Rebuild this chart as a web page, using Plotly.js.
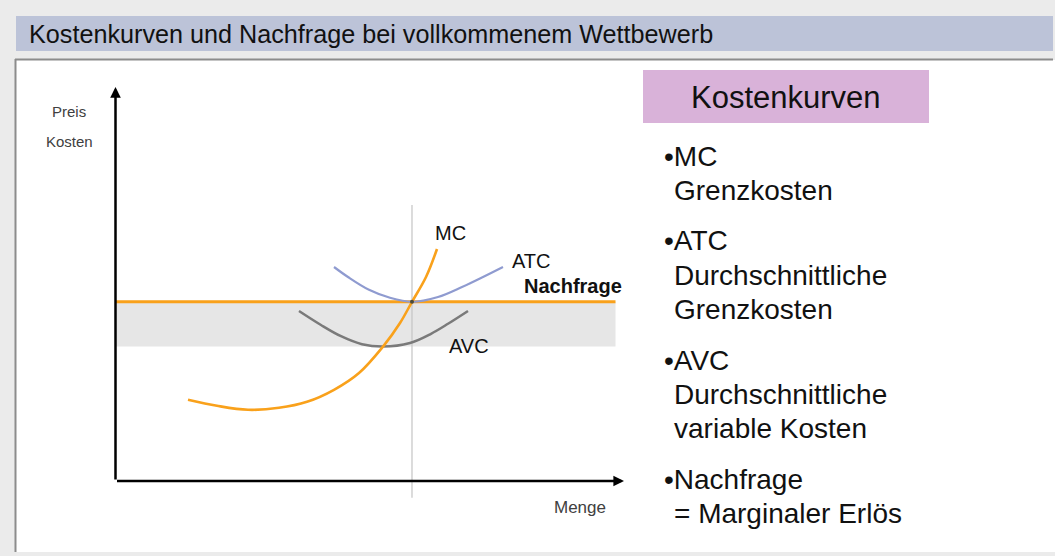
<!DOCTYPE html>
<html>
<head>
<meta charset="utf-8">
<script src="https://cdn.plot.ly/plotly-3.0.1.min.js"></script>
<style>
  html, body { margin: 0; padding: 0; background: #ffffff; }
  #chart { width: 1055px; height: 556px; }
</style>
</head>
<body>
<div id="chart"></div>
<script>
// ---------------- data ----------------
// Grenzkosten (MC)
const mcQ    = [1.45, 2.03, 2.65, 3.27, 3.83, 4.37, 4.87, 5.35, 5.69, 5.93, 6.21, 6.43];
const mcCost = [2.03, 1.88, 1.78, 1.83, 1.98, 2.28, 2.70, 3.36, 3.95, 4.48, 5.10, 5.80];
// Durchschnittliche totale Kosten (ATC)
const atcQ    = [4.37, 4.65, 5.07, 5.49, 5.93, 6.45, 6.93, 7.35, 7.75];
const atcCost = [5.35, 5.10, 4.78, 4.58, 4.48, 4.60, 4.85, 5.10, 5.35];
// Durchschnittliche variable Kosten (AVC)
const avcQ    = [3.67, 4.11, 4.51, 4.93, 5.35, 5.89, 6.31, 6.65, 7.05];
const avcCost = [4.25, 3.90, 3.62, 3.42, 3.36, 3.45, 3.68, 3.93, 4.25];
// Nachfrage = Preis
const demandQ     = [0, 10.0];
const demandPrice = [4.48, 4.48];
// Kennwerte
const qStar      = 5.93;   // optimale Menge
const avcMin     = 3.36;   // Minimum AVC (unterer Rand des grauen Bandes)
const bandQ      = [0, 10.0];
const qLineRange = [-0.42, 6.9];
const yAxisTop   = 9.85;
const xAxisEnd   = 10.17;

// ---------------- texts ----------------
const headerText   = 'Kostenkurven und Nachfrage bei vollkommenem Wettbewerb';
const yAxisLabels  = ['Preis', 'Kosten'];
const xAxisLabel   = 'Menge';
const curveLabels  = ['MC', 'ATC', 'Nachfrage', 'AVC'];
const boxTitle     = 'Kostenkurven';
const bulletLines  = [
  '•MC', 'Grenzkosten',
  '•ATC', 'Durchschnittliche', 'Grenzkosten',
  '•AVC', 'Durchschnittliche', 'variable Kosten',
  '•Nachfrage', '= Marginaler Erlös'
];

// ---------------- layout helpers ----------------
const W = 1055, H = 556;
const PX = x => x / W;
const PY = y => 1 - y / H;
const FONT = 'Liberation Sans, Arial, Helvetica, sans-serif';

const ORANGE = '#f9a11b';
const BLUE   = '#8f9bd0';
const GREY   = '#7a7a7a';

const traces = [
  { x: demandQ, y: demandPrice, mode: 'lines', line: { color: ORANGE, width: 3 }, hoverinfo: 'skip' },
  { x: atcQ, y: atcCost, mode: 'lines', line: { color: BLUE, width: 2.2, shape: 'spline', smoothing: 1 }, hoverinfo: 'skip' },
  { x: avcQ, y: avcCost, mode: 'lines', line: { color: GREY, width: 2.5, shape: 'spline', smoothing: 1 }, hoverinfo: 'skip' },
  { x: mcQ, y: mcCost, mode: 'lines', line: { color: ORANGE, width: 2.6, shape: 'spline', smoothing: 1 }, hoverinfo: 'skip' },
  { x: [qStar], y: [demandPrice[0]], mode: 'markers', marker: { color: '#4a4a3a', size: 4 }, hoverinfo: 'skip' }
];

const shapes = [
  // page background
  { type: 'rect', xref: 'paper', yref: 'paper', x0: 0, x1: 1, y0: 0, y1: 1, fillcolor: '#ebebeb', line: { width: 0 }, layer: 'below' },
  // header bar
  { type: 'rect', xref: 'paper', yref: 'paper', x0: PX(16), x1: PX(1053), y0: PY(51), y1: PY(16), fillcolor: '#bcc3d8', line: { width: 0 }, layer: 'below' },
  // white content area
  { type: 'rect', xref: 'paper', yref: 'paper', x0: PX(16), x1: PX(1055), y0: PY(552), y1: PY(60), fillcolor: '#ffffff', line: { width: 0 }, layer: 'below' },
  // frame lines
  { type: 'line', xref: 'paper', yref: 'paper', x0: PX(15), x1: PX(1053), y0: PY(59.5), y1: PY(59.5), line: { color: '#8c8c8c', width: 2 }, layer: 'below' },
  { type: 'line', xref: 'paper', yref: 'paper', x0: PX(15.5), x1: PX(15.5), y0: PY(59), y1: PY(552), line: { color: '#8c8c8c', width: 2 }, layer: 'below' },
  // pink title box
  { type: 'rect', xref: 'paper', yref: 'paper', x0: PX(643), x1: PX(929), y0: PY(123), y1: PY(70), fillcolor: '#d9b2d9', line: { width: 0 }, layer: 'below' },
  // grey band between price and AVC minimum
  { type: 'rect', xref: 'x', yref: 'y', x0: bandQ[0], x1: bandQ[1], y0: avcMin, y1: demandPrice[0], fillcolor: '#e6e6e6', line: { width: 0 }, layer: 'below' },
  // vertical line at optimal quantity
  { type: 'line', xref: 'x', yref: 'y', x0: qStar, x1: qStar, y0: qLineRange[0], y1: qLineRange[1], line: { color: '#c4c4c4', width: 1.2 }, layer: 'below' }
];

const ann = [];
function txt(text, x, y, size, opts) {
  ann.push(Object.assign({
    text: text, xref: 'paper', yref: 'paper', x: PX(x), y: PY(y),
    xanchor: 'left', yanchor: 'middle', showarrow: false,
    font: { family: FONT, size: size, color: '#111111' }
  }, opts || {}));
}

// axes with arrows
ann.push({ xref: 'x', yref: 'y', axref: 'x', ayref: 'y', x: 0, y: yAxisTop, ax: 0, ay: 0, text: '',
  showarrow: true, arrowhead: 2, arrowsize: 0.85, arrowwidth: 2.5, arrowcolor: '#000000', standoff: 0 });
ann.push({ xref: 'x', yref: 'y', axref: 'x', ayref: 'y', x: xAxisEnd, y: 0, ax: 0, ay: 0, text: '',
  showarrow: true, arrowhead: 2, arrowsize: 0.85, arrowwidth: 2.5, arrowcolor: '#000000', standoff: 0 });

// header
txt(headerText, 27, 34, 25.2);
// axis labels
txt(yAxisLabels[0], 69, 112, 15, { xanchor: 'center', font: { family: FONT, size: 15, color: '#404040' } });
txt(yAxisLabels[1], 69, 141, 15, { xanchor: 'center', font: { family: FONT, size: 15, color: '#404040' } });
txt(xAxisLabel, 580, 507, 17, { xanchor: 'center', font: { family: FONT, size: 17, color: '#404040' } });
// curve labels
txt(curveLabels[0], 450, 233, 20, { xanchor: 'center' });
txt(curveLabels[1], 531, 261, 20, { xanchor: 'center' });
txt(curveLabels[2], 573, 286, 20, { xanchor: 'center', font: { family: FONT, size: 20, color: '#111111', weight: 'bold' } });
txt(curveLabels[3], 469, 346, 20, { xanchor: 'center' });
// right panel
txt(boxTitle, 786, 97, 31, { xanchor: 'center' });
const lineY = [156, 190, 240, 275, 309, 360, 394, 428, 479, 513];
bulletLines.forEach((t, i) => {
  const isBullet = t.charAt(0) === '•';
  txt(t, isBullet ? 662 : 672, lineY[i], 28);
});

const layout = {
  width: W, height: H,
  margin: { l: 0, r: 0, t: 0, b: 0, pad: 0 },
  paper_bgcolor: '#ffffff',
  plot_bgcolor: 'rgba(0,0,0,0)',
  showlegend: false,
  xaxis: { domain: [PX(65.5), PX(665.5)], range: [-1, 11], visible: false, fixedrange: true },
  yaxis: { domain: [PY(521), PY(41)], range: [-1, 11], visible: false, fixedrange: true },
  shapes: shapes,
  annotations: ann,
  font: { family: FONT }
};

Plotly.newPlot('chart', traces, layout, { displayModeBar: false, staticPlot: true });
</script>
</body>
</html>
